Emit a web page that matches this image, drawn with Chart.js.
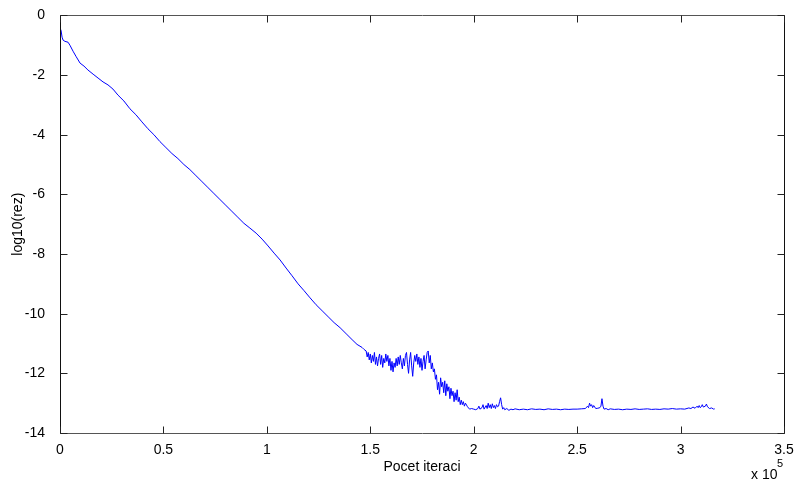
<!DOCTYPE html>
<html>
<head>
<meta charset="utf-8">
<script src="https://cdn.jsdelivr.net/npm/chart.js@4.4.0/dist/chart.umd.min.js"></script>
<style>
  html, body { margin: 0; padding: 0; background: #fff; }
  #wrap { width: 795px; height: 484px; position: relative; }
</style>
</head>
<body>
<div id="wrap"><canvas id="c" width="795" height="484"></canvas></div>
<script>
// Iterations (in units of 10^5) and log10 of residual
const iter1e5 = [
  0, 0.005, 0.01, 0.015, 0.024, 0.039, 0.048, 0.063, 0.077, 0.097,
  0.116, 0.135, 0.16, 0.184, 0.208, 0.232, 0.256, 0.28, 0.309, 0.338,
  0.367, 0.396, 0.425, 0.454, 0.483, 0.512, 0.541, 0.57, 0.599, 0.628,
  0.657, 0.686, 0.715, 0.744, 0.773, 0.802, 0.831, 0.86, 0.889, 0.918,
  0.948, 0.977, 1.006, 1.035, 1.064, 1.093, 1.122, 1.151, 1.18, 1.209,
  1.238, 1.267, 1.296, 1.325, 1.354, 1.383, 1.412, 1.436, 1.46, 1.47,
  1.48, 1.485, 1.49, 1.495, 1.50, 1.505, 1.51, 1.515, 1.52, 1.525,
  1.53, 1.535, 1.54, 1.545, 1.55, 1.555, 1.56, 1.565, 1.57, 1.575,
  1.58, 1.585, 1.59, 1.595, 1.60, 1.605, 1.61, 1.615, 1.62, 1.625,
  1.63, 1.635, 1.64, 1.645, 1.65, 1.655, 1.66, 1.665, 1.67, 1.675,
  1.68, 1.685, 1.69, 1.695, 1.70, 1.705, 1.71, 1.715, 1.72, 1.725,
  1.73, 1.735, 1.74, 1.745, 1.75, 1.755, 1.76, 1.765, 1.77, 1.775,
  1.78, 1.785, 1.79, 1.795, 1.80, 1.805, 1.81, 1.815, 1.82, 1.825,
  1.83, 1.835, 1.84, 1.845, 1.85, 1.855, 1.86, 1.865, 1.87, 1.875,
  1.88, 1.885, 1.89, 1.895, 1.90, 1.905, 1.91, 1.915, 1.92, 1.925,
  1.93, 1.935, 1.94, 1.945, 1.95, 1.955, 1.96, 1.97, 1.98, 1.99,
  2.0, 2.01, 2.02, 2.025, 2.03, 2.04, 2.045, 2.05, 2.06, 2.065,
  2.07, 2.075, 2.08, 2.085, 2.09, 2.095, 2.10, 2.105, 2.11, 2.115,
  2.12, 2.125, 2.13, 2.135, 2.14, 2.145, 2.15, 2.16, 2.17, 2.18,
  2.19, 2.20, 2.22, 2.24, 2.26, 2.28, 2.30, 2.32, 2.34, 2.36,
  2.38, 2.40, 2.42, 2.44, 2.46, 2.48, 2.50, 2.52, 2.54, 2.55,
  2.555, 2.56, 2.565, 2.57, 2.575, 2.58, 2.59, 2.60, 2.61, 2.615,
  2.62, 2.625, 2.63, 2.64, 2.65, 2.66, 2.68, 2.70, 2.72, 2.74,
  2.76, 2.78, 2.80, 2.82, 2.84, 2.86, 2.88, 2.90, 2.92, 2.94,
  2.96, 2.98, 3.00, 3.02, 3.04, 3.05, 3.06, 3.07, 3.08, 3.085,
  3.09, 3.095, 3.10, 3.105, 3.11, 3.12, 3.125, 3.13, 3.14, 3.15,
  3.16, 3.165
];
const log10Rez = [
  -0.43, -0.50, -0.73, -0.83, -0.87, -0.90, -1.0, -1.2, -1.37, -1.6,
  -1.70, -1.83, -1.97, -2.1, -2.23, -2.33, -2.47, -2.67, -2.87, -3.13,
  -3.33, -3.57, -3.8, -4.0, -4.23, -4.43, -4.63, -4.8, -5.0, -5.17,
  -5.37, -5.57, -5.77, -5.97, -6.17, -6.37, -6.57, -6.77, -6.97, -7.13,
  -7.3, -7.5, -7.73, -7.97, -8.2, -8.47, -8.73, -9.0, -9.23, -9.47,
  -9.7, -9.9, -10.1, -10.3, -10.47, -10.67, -10.87, -11.03, -11.13, -11.2,
  -11.25, -11.45, -11.3, -11.55, -11.35, -11.65, -11.4, -11.6, -11.3, -11.7,
  -11.45, -11.75, -11.5, -11.35, -11.7, -11.4, -11.8, -11.5, -11.65, -11.35,
  -11.6, -11.4, -11.75, -11.5, -11.9, -11.6, -11.95, -11.65, -11.8, -11.5,
  -11.75, -11.45, -11.7, -11.4, -11.65, -11.85, -11.5, -11.75, -11.4, -11.3,
  -11.7, -12.0, -11.55, -11.3, -11.75, -12.1, -11.65, -11.4, -11.6, -11.35,
  -11.7, -11.45, -11.8, -11.5, -11.9, -11.6, -11.4, -11.85, -11.55, -11.3,
  -11.25, -11.65, -11.4, -11.85, -11.65, -11.95, -11.85, -12.2, -12.05, -12.55,
  -12.3, -12.7, -12.15, -12.45, -12.3, -12.65, -12.25, -12.75, -12.35, -12.6,
  -12.45, -12.85, -12.5, -12.75, -12.6, -12.95, -12.65, -12.9, -12.55, -12.95,
  -12.8, -13.05, -12.9, -13.05, -12.95, -13.1, -13.0, -13.12, -13.2, -13.18,
  -13.2, -13.22, -13.18, -13.1, -13.2, -13.15, -13.05, -13.2, -13.08, -13.18,
  -13.0, -13.15, -13.05, -13.18, -13.02, -13.15, -13.08, -13.18, -13.05, -13.12,
  -13.1, -12.95, -12.82, -13.05, -13.2, -13.15, -13.22, -13.18, -13.24, -13.2,
  -13.22, -13.19, -13.22, -13.2, -13.22, -13.19, -13.21, -13.2, -13.22, -13.19,
  -13.21, -13.2, -13.22, -13.2, -13.21, -13.2, -13.2, -13.19, -13.18, -13.1,
  -13.15, -13.0, -13.1, -13.05, -13.15, -13.08, -13.18, -13.17, -13.15, -13.1,
  -12.85, -13.1, -13.2, -13.18, -13.22, -13.19, -13.21, -13.2, -13.22, -13.2,
  -13.21, -13.19, -13.21, -13.2, -13.19, -13.21, -13.2, -13.21, -13.19, -13.2,
  -13.18, -13.2, -13.19, -13.2, -13.16, -13.18, -13.13, -13.17, -13.1, -13.15,
  -13.08, -13.15, -13.12, -13.05, -13.13, -13.1, -13.03, -13.12, -13.18, -13.16,
  -13.2, -13.19
];
const xTicks = [0, 0.5, 1, 1.5, 2, 2.5, 3, 3.5];
const yTicks = [0, -2, -4, -6, -8, -10, -12, -14];
const xTitle = 'Pocet iteraci';
const yTitle = 'log10(rez)';

const FONT = '"Liberation Sans", Arial, Helvetica, sans-serif';
const points = iter1e5.map((x, i) => ({ x: x, y: log10Rez[i] }));

const boxPlugin = {
  id: 'matlabBox',
  afterDraw(chart) {
    const { ctx, chartArea: a, scales } = chart;
    const L = Math.round(a.left) + 0.5, R = Math.round(a.right) + 0.5;
    const T = Math.round(a.top) + 0.5, B = Math.round(a.bottom) + 0.5;
    const tl = 7;
    ctx.save();
    ctx.lineWidth = 1;
    ctx.strokeStyle = '#555';
    ctx.beginPath();
    ctx.moveTo(L, T); ctx.lineTo(R, T);
    ctx.moveTo(L, B); ctx.lineTo(R, B);
    ctx.stroke();
    ctx.strokeStyle = '#111';
    ctx.beginPath();
    ctx.moveTo(L, T); ctx.lineTo(L, B);
    ctx.moveTo(R, T); ctx.lineTo(R, B);
    ctx.stroke();
    ctx.strokeStyle = '#222';
    ctx.beginPath();
    xTicks.forEach(v => {
      const px = Math.round(scales.x.getPixelForValue(v)) + 0.5;
      ctx.moveTo(px, B); ctx.lineTo(px, B - tl);
      ctx.moveTo(px, T); ctx.lineTo(px, T + tl);
    });
    yTicks.forEach(v => {
      const py = Math.round(scales.y.getPixelForValue(v)) + 0.5;
      ctx.moveTo(L, py); ctx.lineTo(L + tl, py);
      ctx.moveTo(R, py); ctx.lineTo(R - tl, py);
    });
    ctx.stroke();
    ctx.fillStyle = '#000';
    ctx.textBaseline = 'alphabetic';
    ctx.textAlign = 'left';
    ctx.font = '14px ' + FONT;
    ctx.fillText('x 10', 751, 479);
    ctx.font = '11px ' + FONT;
    ctx.fillText('5', 777, 467);
    ctx.restore();
  }
};

new Chart(document.getElementById('c'), {
  type: 'line',
  data: {
    datasets: [{
      data: points,
      borderColor: '#0000ff',
      borderWidth: 1,
      pointRadius: 0,
      tension: 0,
      fill: false
    }]
  },
  options: {
    responsive: false,
    animation: false,
    events: [],
    layout: { padding: { left: 0, top: 13, right: 11, bottom: 0 } },
    plugins: { legend: { display: false }, tooltip: { enabled: false } },
    scales: {
      x: {
        type: 'linear',
        min: 0, max: 3.5,
        grid: { display: false },
        border: { display: false },
        afterBuildTicks: s => { s.ticks = xTicks.map(v => ({ value: v })); },
        afterFit: s => { s.height = 51; },
        ticks: {
          padding: 1,
          color: '#000',
          font: { family: FONT, size: 14 },
          maxRotation: 0,
          autoSkip: false,
          callback: v => String(v)
        },
        title: {
          display: true,
          text: xTitle,
          color: '#000',
          font: { family: FONT, size: 14 },
          padding: { top: 0, bottom: 8 }
        }
      },
      y: {
        type: 'linear',
        min: -14, max: 0,
        grid: { display: false },
        border: { display: false },
        afterBuildTicks: s => { s.ticks = yTicks.map(v => ({ value: v })); },
        afterFit: s => { s.width = 60; },
        ticks: {
          padding: 7,
          color: '#000',
          font: { family: FONT, size: 14 },
          autoSkip: false,
          callback: v => String(v)
        },
        title: {
          display: true,
          text: yTitle,
          color: '#000',
          font: { family: FONT, size: 14 },
          padding: { top: 10, bottom: 0 }
        }
      }
    }
  },
  plugins: [boxPlugin]
});
</script>
</body>
</html>
